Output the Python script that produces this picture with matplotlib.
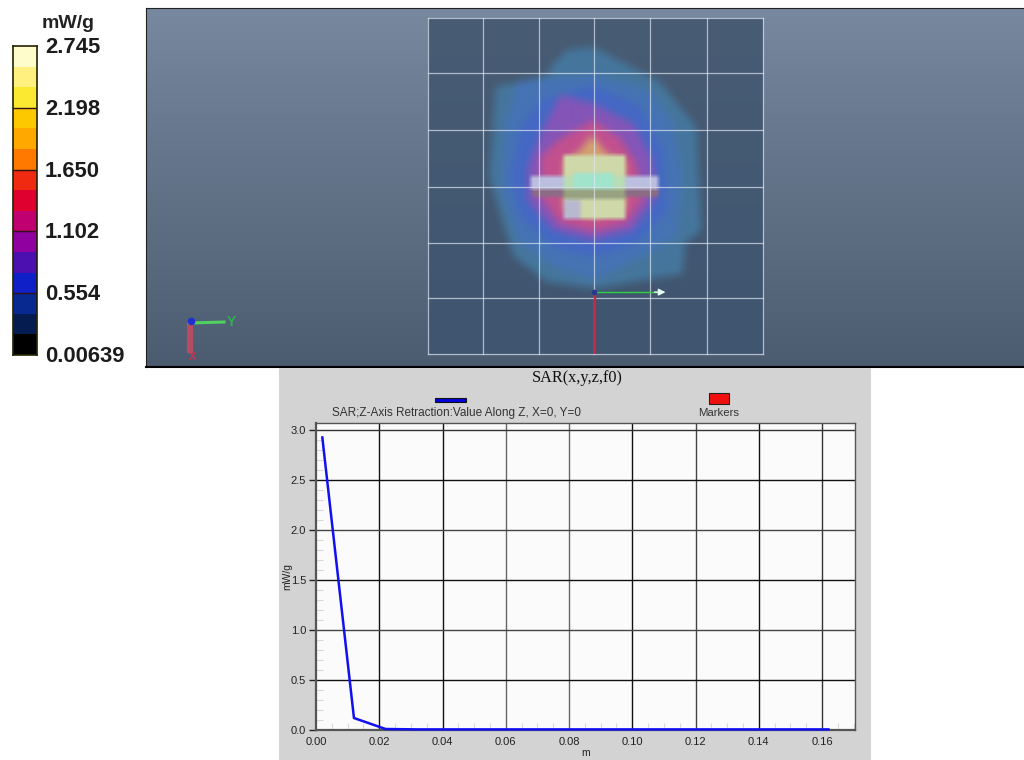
import numpy as np
import matplotlib
matplotlib.use("Agg")
import matplotlib.pyplot as plt
from matplotlib.colors import ListedColormap, BoundaryNorm, LinearSegmentedColormap, to_rgb
from matplotlib.patches import Rectangle
from matplotlib.path import Path
from matplotlib.ticker import MultipleLocator

W, H = 1024, 760

# colour scale
cb_ticks = [0.00639, 0.554, 1.102, 1.650, 2.198, 2.745]
cb_labels = ["0.00639", "0.554", "1.102", "1.650", "2.198", "2.745"]
cb_colors = ["#000000", "#051c50", "#082a90", "#1020c8", "#4c10b0", "#9000a0",
             "#c00070", "#e00030", "#f02a10", "#ff7800", "#ffa800", "#fdc800",
             "#fbe830", "#fff080", "#fffccc"]

# SAR map contours, in scan units (0-1050 across the scan area)
level_colors = ["#45769c", "#4673b4", "#4468c4", "#8455b8", "#c2508e", "#d2a070"]
contour_0 = [(440,120),(520,110),(660,185),(720,215),(830,350),(845,660),(795,700),(790,790),
             (640,815),(530,835),(380,815),(280,740),(250,650),(205,500),(225,230),(385,195),(390,170)]
contour_1 = [(290,215),(520,190),(690,240),(760,340),(790,500),(770,680),(650,750),(520,810),
             (400,770),(290,690),(240,540),(250,350)]
contour_2 = [(360,270),(520,225),(660,290),(730,420),(740,600),(650,700),(520,740),(400,710),
             (300,620),(270,500),(300,350)]
contour_3 = [(420,255),(520,280),(640,340),(700,450),(710,560),(640,660),(520,690),(400,660),
             (320,570),(320,470),(370,350)]
contour_4 = [(520,330),(600,385),(650,460),(670,570),(620,640),(520,665),(420,640),(360,560),
             (360,440),(420,385)]
contour_5 = [(515,375),(560,430),(617,450),(617,600),(520,625),(430,600),(430,450),(475,425)]
contours = [contour_0, contour_1, contour_2, contour_3, contour_4, contour_5]
# probe plate seen through the map: left, top, right, bottom, colour
plate_parts = [(430, 435, 617, 625, "#cfd8a8"),
               (430, 570, 480, 625, "#b8b8d0"),
               (330, 497, 717, 537, "#bcbfe0"),
               (430, 497, 617, 537, "#b8dcb4"),
               (335, 537, 717, 559, "#8c6c84"),
               (430, 537, 617, 567, "#98a280"),
               (460, 490, 580, 535, "#a0e4cc")]
grid_scan = [22, 188, 355, 522, 690, 860, 1030]
grid_scan_y = [25, 190, 360, 530, 697, 863, 1030]

# line plot
z_m = [0.002, 0.012, 0.022, 0.032, 0.042, 0.052, 0.062, 0.072, 0.082, 0.092, 0.102, 0.112,
       0.122, 0.132, 0.142, 0.152, 0.162]
sar = [2.93, 0.12, 0.01, 0.006, 0.006, 0.006, 0.006, 0.006, 0.006, 0.006, 0.006, 0.006,
       0.006, 0.006, 0.006, 0.006, 0.006]
x_grid_colors = ["#111111", "#111111", "#666666", "#666666", "#111111", "#444444", "#111111", "#333333"]
y_grid_colors = ["#111111", "#444444", "#111111", "#444444", "#111111", "#333333"]


def px_axes(fig, x0, y0, x1, y1, **kw):
    return fig.add_axes([x0 / W, 1 - y1 / H, (x1 - x0) / W, (y1 - y0) / H], **kw)


def box_blur(img, r):
    k = np.ones(2 * r + 1) / (2 * r + 1)
    for axis in (0, 1):
        pad = [(r, r) if a == axis else (0, 0) for a in range(3)]
        img = np.apply_along_axis(lambda m: np.convolve(m, k, mode="valid"), axis,
                                  np.pad(img, pad, mode="edge"))
    return img


fig = plt.figure(figsize=(W / 100, H / 100), dpi=100, facecolor="white")
plt.rcParams["font.family"] = ["Liberation Sans", "DejaVu Sans"]

# colour bar
cax = px_axes(fig, 13, 46, 37, 355)
levels = np.linspace(cb_ticks[0], cb_ticks[-1], len(cb_colors) + 1)
cax.pcolormesh([0, 1], levels, np.array(levels[:-1]).reshape(-1, 1),
               cmap=ListedColormap(cb_colors), norm=BoundaryNorm(levels, len(cb_colors)))
cax.set_xticks([])
cax.set_yticks([])
for v in cb_ticks[1:-1]:
    cax.axhline(v, color="#30101a", lw=1)
for s in cax.spines.values():
    s.set_linewidth(1.2)
    s.set_color("#222200")
fig.text(68 / W, 1 - 24 / H, "mW/g", ha="center", va="center", fontsize=14,
         fontweight="bold", color="#222222")
for v, lab in zip(cb_ticks, cb_labels):
    y = 355 - (v - cb_ticks[0]) / (cb_ticks[-1] - cb_ticks[0]) * 309
    fig.text(45 / W, 1 - (y + 1.5) / H, lab, ha="left", va="center", fontsize=15.8,
             fontweight="bold", color="#1c1c1c")

# map panel
bg = LinearSegmentedColormap.from_list("bg", ["#77889f", "#4c5c70"])
pan = px_axes(fig, 146, 8, 1024, 367)
pan.imshow(np.linspace(0, 1, 256).reshape(-1, 1), cmap=bg, aspect="auto",
           extent=[146, 1024, 367, 8], zorder=0)
pan.set_xlim(146, 1024)
pan.set_ylim(367, 8)
pan.set_xticks([])
pan.set_yticks([])
pan.spines["right"].set_visible(False)
pan.spines["bottom"].set_linewidth(1.5)
pan.spines["left"].set_color("#222222")
pan.spines["top"].set_color("#222222")

# scan area: paint the contours on a raster and soften it, the original is blurred
scan = px_axes(fig, 428, 18, 763, 354)
scan.patch.set_alpha(0)
n = 336
gx, gy = np.meshgrid(np.linspace(22, 1030, n), np.linspace(25, 1030, n))
pts_xy = np.column_stack([gx.ravel(), gy.ravel()])
top, bot = np.array(to_rgb("#485c74")), np.array(to_rgb("#3f5570"))
ramp = np.linspace(0, 1, n).reshape(-1, 1, 1)
img = top * (1 - ramp) + bot * ramp
img = np.repeat(img, n, axis=1)
for pts, col in zip(contours, level_colors):
    mask = Path(pts).contains_points(pts_xy).reshape(n, n)
    img[mask] = to_rgb(col)
img = box_blur(img, 5)
for x0, y0, x1, y1, col in plate_parts:
    img[(gx >= x0) & (gx <= x1) & (gy >= y0) & (gy <= y1)] = to_rgb(col)
img = box_blur(img, 2)
scan.imshow(img, aspect="auto", extent=[22, 1030, 1030, 25], zorder=0, interpolation="bilinear")
scan.set_xlim(22, 1030)
scan.set_ylim(1030, 25)
scan.axis("off")
for g in grid_scan:
    scan.plot([g, g], [25, 1030], color="#dfe6f2", lw=0.9, alpha=0.7, zorder=6, clip_on=False)
for g in grid_scan_y:
    scan.plot([22, 1030], [g, g], color="#dfe6f2", lw=0.9, alpha=0.7, zorder=6, clip_on=False)
scan.plot([525, 525], [845, 1030], color="#c02848", lw=1.6, zorder=7)
scan.plot([525, 710], [845, 845], color="#30d040", lw=1, zorder=7)
scan.annotate("", xy=(745, 845), xytext=(695, 845), zorder=8,
              arrowprops=dict(arrowstyle="-|>", color="#e8fff0", lw=1))
scan.plot([522], [845], "o", color="#2a3a90", ms=3, zorder=8)

# small orientation triad
pan.plot([190, 190], [324, 350], color="#c84a60", lw=4.5, alpha=0.85, zorder=5)
pan.plot([190, 224], [323, 322], color="#50d060", lw=2.2, zorder=5)
pan.plot([191], [321], "o", color="#2030d0", ms=4.5, zorder=6)
pan.text(231, 322, "Y", color="#30b050", fontsize=10, fontweight="bold", ha="center", va="center")
pan.text(193, 357, "X", color="#d03050", fontsize=8, fontweight="bold", ha="center", va="center")

# SAR plot
back = px_axes(fig, 279, 368, 871, 760)
back.set_facecolor("#d3d3d3")
back.set_xticks([])
back.set_yticks([])
for s in back.spines.values():
    s.set_visible(False)

ax = px_axes(fig, 316, 423, 855, 730)
ax.set_facecolor("#fbfbfb")
ax.set_xlim(0, 0.1704)
ax.set_ylim(0, 3.075)
ax.xaxis.set_minor_locator(MultipleLocator(0.005))
ax.yaxis.set_major_locator(MultipleLocator(0.5))
ax.yaxis.set_minor_locator(MultipleLocator(0.1))
ax.set_xticks(np.arange(0, 0.161, 0.02))
ax.set_xticklabels(["%.2f" % v for v in np.arange(0, 0.161, 0.02)])
ax.tick_params(which="major", length=5, width=1, color="#222222", labelsize=8, labelcolor="#222222", pad=2)
ax.tick_params(axis="x", which="major", length=0, pad=5)
ax.tick_params(which="minor", direction="in", length=5, width=0.8, color="#d8d8d8")
for v, c in zip(np.arange(0.02, 0.161, 0.02), x_grid_colors):
    ax.axvline(v, color=c, lw=1, zorder=1)
for v, c in zip(np.arange(0.5, 3.01, 0.5), y_grid_colors):
    ax.axhline(v, color=c, lw=1, zorder=1)
ax.plot(z_m, sar, color="#1010f0", lw=1.8, zorder=3, clip_on=False)
for side in ["left", "bottom", "top", "right"]:
    ax.spines[side].set_color("#555555")
    ax.spines[side].set_linewidth(1.6 if side in ("left", "bottom") else 1)
ax.set_xlabel("m", fontsize=7.5, labelpad=1, color="#222222")
ax.set_ylabel("mW/g", fontsize=7.5, labelpad=-1, color="#222222")

fig.text(577 / W, 1 - 378 / H, "SAR(x,y,z,f0)", family="Liberation Serif", fontsize=11.7,
         ha="center", va="center", color="#111111")
fig.text(456 / W, 1 - 413 / H, "SAR;Z-Axis Retraction:Value Along Z, X=0, Y=0", fontsize=8.5,
         ha="center", va="center", color="#333333")
fig.text(719 / W, 1 - 413 / H, "Markers", fontsize=8.2, ha="center", va="center", color="#333333")
fig.add_artist(Rectangle((435 / W, 1 - 402 / H), 31 / W, 4 / H, transform=fig.transFigure,
                         fc="#0000e0", ec="#111111", lw=0.8))
fig.add_artist(Rectangle((709 / W, 1 - 404 / H), 20 / W, 11 / H, transform=fig.transFigure,
                         fc="#f01010", ec="#222222", lw=0.8))

fig.savefig("out.png", dpi=100)
